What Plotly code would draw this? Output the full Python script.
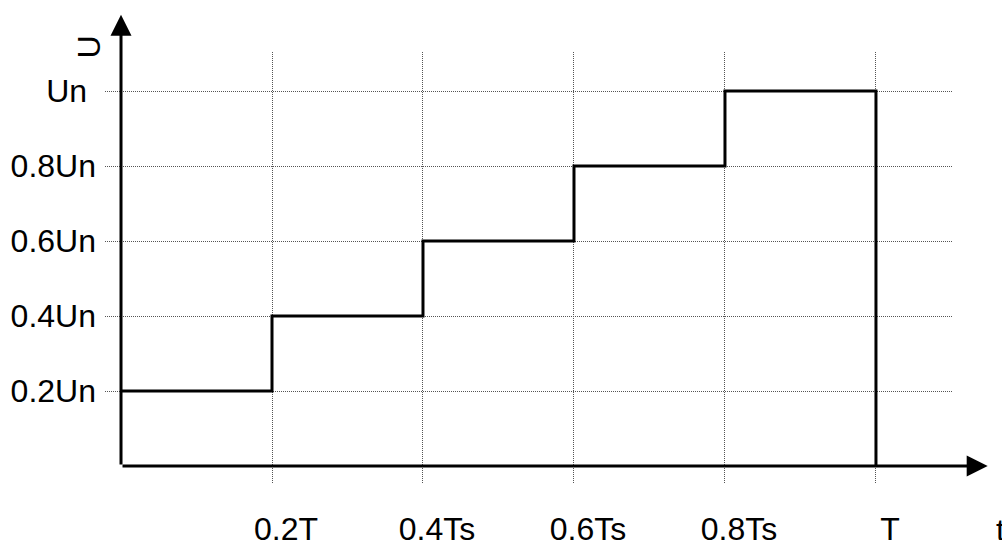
import plotly.graph_objects as go

# ---------------------------------------------------------------
# data

step_t = [0.0, 0.2, 0.4, 0.6, 0.8, 1.0]
step_u = [0.2, 0.4, 0.6, 0.8, 1.0, 0.0]

x_ticks = [0.2, 0.4, 0.6, 0.8, 1.0]
x_labels = ["0.2T", "0.4Ts", "0.6Ts", "0.8Ts", "T"]

y_ticks = [0.2, 0.4, 0.6, 0.8, 1.0]
y_labels = ["0.2Un", "0.4Un", "0.6Un", "0.8Un", "Un\u00a0"]

# ---------------------------------------------------------------

FONT = "Arial, Liberation Sans, sans-serif"
W, H = 1002, 540
M = dict(l=105, r=50, t=52, b=57)
PW = W - M["l"] - M["r"]
PH = H - M["t"] - M["b"]

fig = go.Figure()

fig.add_trace(go.Scatter(
    x=step_t,
    y=step_u,
    mode="lines",
    line=dict(color="black", width=3, shape="hv"),
    hoverinfo="skip",
    showlegend=False,
))

# axis arrows (tail at origin, head past the plot area)
arrow = dict(
    showarrow=True, text="", arrowhead=2, arrowsize=1.4, arrowwidth=3,
    arrowcolor="black", xref="x", yref="y", axref="x", ayref="y",
    ax=0, ay=0, standoff=0, startstandoff=0,
)
fig.add_annotation(x=1.148, y=0, **arrow)
fig.add_annotation(x=0, y=1.203, **arrow)

fig.add_annotation(
    text="U", textangle=-90, xref="paper", yref="paper",
    x=(68 - M["l"]) / PW,
    y=(H - M["b"] - 34) / PH,
    showarrow=False, font=dict(size=32, color="black", family=FONT),
)
fig.add_annotation(
    text="t", xref="paper", yref="paper", xanchor="left", yanchor="top",
    x=(994 - M["l"]) / PW,
    y=(H - M["b"] - 510) / PH,
    showarrow=False, font=dict(size=32, color="black", family=FONT),
)

grid = dict(
    showgrid=True, gridcolor="#555555", gridwidth=1, griddash="1px,1px",
    zeroline=False, showline=False, ticks="", automargin=False,
    tickfont=dict(size=32, color="black", family=FONT),
)

fig.update_xaxes(
    range=[-0.0212, 1.1007],
    tickvals=x_ticks, ticktext=x_labels,
    ticklabelshift=14, ticklabelstandoff=24,
    **grid,
)
fig.update_yaxes(
    range=[-0.0453, 1.104],
    tickvals=y_ticks, ticktext=y_labels,
    ticklabelstandoff=8,
    **grid,
)

fig.update_layout(
    width=W, height=H, autosize=False,
    margin=M,
    paper_bgcolor="white", plot_bgcolor="white",
    showlegend=False,
)

# drop the default body margin so the figure fills the window exactly
fig.write_html(
    "out.html",
    config={"displayModeBar": False},
    post_script="document.body.style.margin='0';"
                "document.body.style.overflow='hidden';",
)
